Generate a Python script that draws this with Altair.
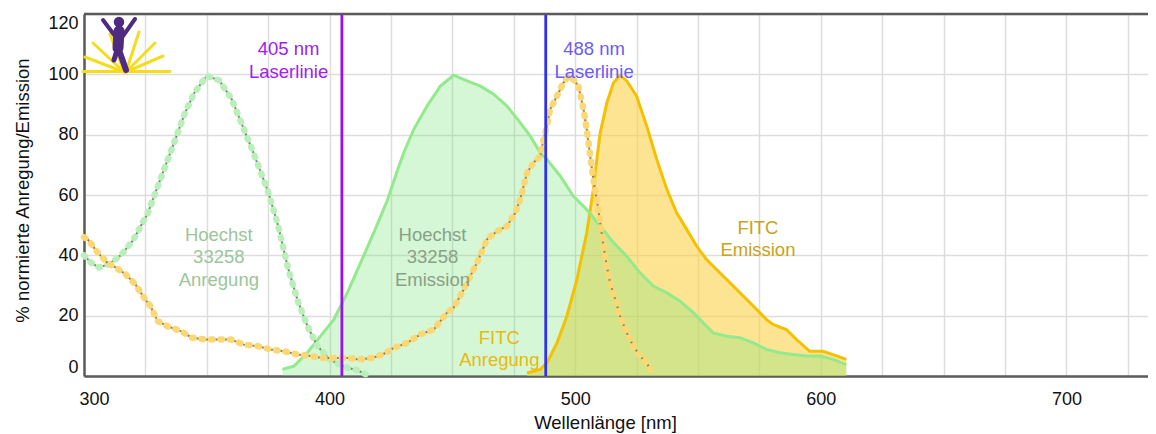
import altair as alt
import pandas as pd

# ---------------- data ----------------
hoechst_ex_nm = [300, 303, 306, 310, 315, 320, 326, 331, 337, 341, 345, 350, 355, 360, 364, 369,
                 375, 379, 383, 387, 391, 395, 400, 406, 411, 415]
hoechst_ex_val = [40, 37.5, 36, 37, 40, 45, 54, 65, 78, 87, 94, 99.5, 98, 92, 84, 74,
                  61, 50, 36, 25, 16.5, 10, 5.5, 3, 2, 0.5]

fitc_ex_nm = [300, 301.5, 305.6, 309.6, 313, 317, 321, 324.5, 327, 330, 334, 339.4, 344, 349.6,
              355, 359.8, 365, 370.6, 376, 381.4, 386.9, 392.3, 397, 401.8, 407.3, 412, 417.4,
              422, 426.1, 431.6, 437, 442.4, 447.8, 450.5, 454.6, 457.3, 460, 464.1, 468.2,
              472.2, 475.6, 477.6, 479, 480.4, 483, 485.8, 487.1, 488.5, 489.8, 492.6, 495.2,
              497.3, 499.3, 501.3, 503.4, 504.7, 506.1, 507.4, 508.8, 510.2, 511.5, 512.9,
              514.2, 516.3, 518.3, 521, 523.7, 526.4, 529.1, 530.5]
fitc_ex_val = [46, 45.3, 40.9, 37.5, 35.9, 33.7, 30.3, 25.9, 23.2, 18.2, 16.5, 14.9, 12.7, 12.1,
               12.1, 12.1, 10.4, 9.9, 8.8, 8.2, 7.1, 6.6, 6.0, 6.0, 6.0, 5.5, 6.0,
               7.3, 9.3, 11.0, 13.8, 15.4, 21, 22.6, 28.7, 33.1, 37.5, 45.3, 48,
               49.7, 54.1, 58.5, 63, 67.4, 70.7, 72.9, 78.4, 82.9, 88.4, 92.8, 97.2,
               99.4, 98.3, 96.1, 88.4, 81.8, 72.9, 65.2, 58.5, 50.8, 43, 36.4,
               30.9, 25.4, 19.8, 14.3, 9.9, 6.6, 4.4, 2.2]

hoechst_em_nm = [380.8, 385.5, 390.9, 396.3, 401.7, 407.2, 412.6, 418, 423.4, 428, 430.2, 434.3,
                 439.7, 445.1, 450.5, 456, 461.4, 466.8, 472.2, 477.6, 481.7, 485.8, 488.5,
                 493.9, 499.3, 504.7, 510.2, 515.6, 521, 526.4, 531.8, 537.3, 542.7, 548.1,
                 553.5, 556.2, 561.7, 567.1, 572.5, 577.9, 583.3, 588.7, 594.2, 599.6, 605, 610.4]
hoechst_em_val = [2.2, 3.3, 7.7, 13.2, 18.7, 27.6, 37.5, 47.5, 58, 69, 74, 81.8,
                  89.5, 96.1, 99.7, 97.8, 96.1, 93.4, 89.5, 84, 79.5, 74, 71.8,
                  66.3, 59.6, 55.2, 49.7, 44.2, 39.7, 34.2, 29.8, 27.6, 24.8, 21,
                  16.5, 14.3, 13.2, 12.7, 11, 8.8, 7.7, 7.1, 6.6, 6.6, 5.5, 3.8]

fitc_em_nm = [480.4, 485.8, 488.5, 492.6, 496.6, 500.7, 504.7, 507.4, 508.8, 510.2, 512.9, 515.6,
              518.3, 521, 525, 529.1, 533.2, 537.3, 541.3, 545.4, 549.5, 553.5, 556.2, 561.7,
              567.1, 572.5, 577.9, 580.6, 586, 590.1, 595.5, 600.9, 605, 610.4]
fitc_em_val = [1.0, 2.2, 4.4, 11, 19.8, 32, 47.5, 61.9, 71.8, 80.7, 90.6, 97.2,
               99.7, 97.8, 92.8, 82.9, 71.8, 61.9, 54.1, 48.6, 43, 38.6, 36.4, 32,
               27.6, 23.2, 18.7, 17.1, 15.4, 12.1, 8.2, 8.2, 7.1, 5.5]

laser_nm = [405, 488]
laser_colors = ["#9a10f0", "#3030f0"]

label_texts = ["405 nm\nLaserlinie", "488 nm\nLaserlinie", "Hoechst\n33258\nAnregung",
               "Hoechst\n33258\nEmission", "FITC\nAnregung", "FITC\nEmission"]
label_nm = [383.3, 507.7, 354.9, 441.9, 469.1, 574.4]
label_val = [108.3, 108.3, 46.8, 46.8, 12.6, 49.1]
label_colors = ["#a020f0", "#6a5cf5", "#9cc59a", "#8aa086", "#e8b90c", "#c8a220"]

x_ticks = [300, 325, 350, 375, 400, 425, 450, 475, 500, 525, 550, 575, 600, 625, 650, 675, 700, 725]
y_ticks = [0, 20, 40, 60, 80, 100, 120]

FONT = "Liberation Sans"
PX_PER_NM = 2.456
PLOT_W = 1064
X_MAX = 300 + PLOT_W / PX_PER_NM

# ---------------- encodings ----------------
X = alt.X("nm:Q",
          scale=alt.Scale(domain=[300, X_MAX], nice=False, zero=False),
          axis=alt.Axis(values=x_ticks, title="Wellenlänge [nm]",
                        labelExpr="datum.value % 100 == 0 ? datum.label : ''",
                        labelFlush=True, labelFlushOffset=5,
                        ticks=False, tickSize=0, labelPadding=14,
                        titleX=521, titleY=46, titleBaseline="middle", titleAlign="center"))
Y = alt.Y("val:Q",
          scale=alt.Scale(domain=[0, 120], nice=False),
          axis=alt.Axis(values=y_ticks, title="% normierte Anregung/Emission",
                        labelFlush=True, ticks=False, tickSize=0, labelPadding=6,
                        titleX=-62, titleY=176, titleAngle=270,
                        titleBaseline="middle", titleAlign="center"))

def df(nm, val):
    return pd.DataFrame({"nm": nm, "val": val})

h_ex = df(hoechst_ex_nm, hoechst_ex_val)
f_ex = df(fitc_ex_nm, fitc_ex_val)
h_em = df(hoechst_em_nm, hoechst_em_val)
f_em = df(fitc_em_nm, fitc_em_val)

f_em_area = alt.Chart(f_em).mark_area(color="#fcd24a", opacity=0.6).encode(x=X, y=Y)
h_em_area = alt.Chart(h_em).mark_area(color="#78e678", opacity=0.3).encode(x=X, y=Y)
f_em_line = alt.Chart(f_em).mark_line(color="#f5c000", strokeWidth=3).encode(x=X, y=Y)
h_em_line = alt.Chart(h_em).mark_line(color="#92ea8c", strokeWidth=3).encode(x=X, y=Y)

h_ex_gray = alt.Chart(h_ex).mark_line(color="#7d7d7d", strokeWidth=2).encode(x=X, y=Y)
h_ex_dots = alt.Chart(h_ex).mark_line(color="#b9f0b9", strokeWidth=6.5, strokeDash=[1.5, 8],
                                      strokeCap="round").encode(x=X, y=Y)
f_ex_gray = alt.Chart(f_ex).mark_line(color="#857d6a", strokeWidth=2).encode(x=X, y=Y)
f_ex_dots = alt.Chart(f_ex).mark_line(color="#fbd874", strokeWidth=6.5, strokeDash=[1.5, 8],
                                      strokeCap="round").encode(x=X, y=Y)

lasers = alt.Chart(pd.DataFrame({"nm": laser_nm, "c": laser_colors})).mark_rule(
    strokeWidth=2.8).encode(x=X, color=alt.Color("c:N", scale=None))

labels = alt.Chart(pd.DataFrame({"nm": label_nm, "val": label_val, "t": label_texts,
                                 "c": label_colors})).mark_text(
    font=FONT, fontSize=18.5, lineBreak="\n", lineHeight=22.5,
    align="center", baseline="middle").encode(
    x=X, y=Y, text="t:N", color=alt.Color("c:N", scale=None))

top_border = alt.Chart(pd.DataFrame({"val": [120]})).mark_rule(
    color="#5a5a5a", strokeWidth=2.5).encode(y=Y)

# small logo (decoration, pixel positions inside the plot area)
LOGO_Y = 58
rays = [(-1, LOGO_Y - 0.5, 86, LOGO_Y - 0.5, 3),
        (40, LOGO_Y, 1, LOGO_Y - 15, 3),
        (40, LOGO_Y, 9, LOGO_Y - 29, 3),
        (40, LOGO_Y, 26, LOGO_Y - 38, 3),
        (42, LOGO_Y, 55, LOGO_Y - 40, 3),
        (42, LOGO_Y, 71, LOGO_Y - 29, 3),
        (42, LOGO_Y, 79, LOGO_Y - 16, 3)]
logo_layers = []
for (x1, y1, x2, y2, w) in rays:
    logo_layers.append(alt.Chart(pd.DataFrame({"a": [0]})).mark_rule(
        color="#f7dc1a", strokeWidth=w, strokeCap="round").encode(
        x=alt.value(x1), y=alt.value(y1), x2=alt.value(x2), y2=alt.value(y2)))
fig = [(19, 6, 31, 22, 4), (51, 5, 39, 22, 4), (35, 17, 34, 34, 11),
       (34, 33, 42, 56, 6), (34, 33, 30, 46, 5)]
for (x1, y1, x2, y2, w) in fig:
    logo_layers.append(alt.Chart(pd.DataFrame({"a": [0]})).mark_rule(
        color="#4e2a80", strokeWidth=w, strokeCap="round").encode(
        x=alt.value(x1), y=alt.value(y1), x2=alt.value(x2), y2=alt.value(y2)))
logo_layers.append(alt.Chart(pd.DataFrame({"a": [0]})).mark_point(
    filled=True, color="#4e2a80", size=110, opacity=1).encode(
    x=alt.value(35), y=alt.value(8)))

chart = alt.layer(
    f_em_area, h_em_area, f_em_line, h_em_line,
    h_ex_gray, h_ex_dots, f_ex_gray, f_ex_dots,
    lasers, labels, top_border, *logo_layers
).properties(
    width=PLOT_W, height=362,
    autosize=alt.AutoSizeParams(type="none"),
    padding={"left": 76, "top": 6, "right": 0, "bottom": 58},
    background="white",
).configure_view(stroke=None).configure_axis(
    labelFont=FONT, titleFont=FONT, labelFontSize=18, titleFontSize=18.5,
    labelColor="#111111", titleColor="#111111", titleFontWeight="normal",
    gridColor="#dddddd", gridWidth=1.5,
    domainColor="#5a5a5a", domainWidth=2.5,
)

chart.save("out.html", embed_options={"renderer": "svg", "actions": False})
